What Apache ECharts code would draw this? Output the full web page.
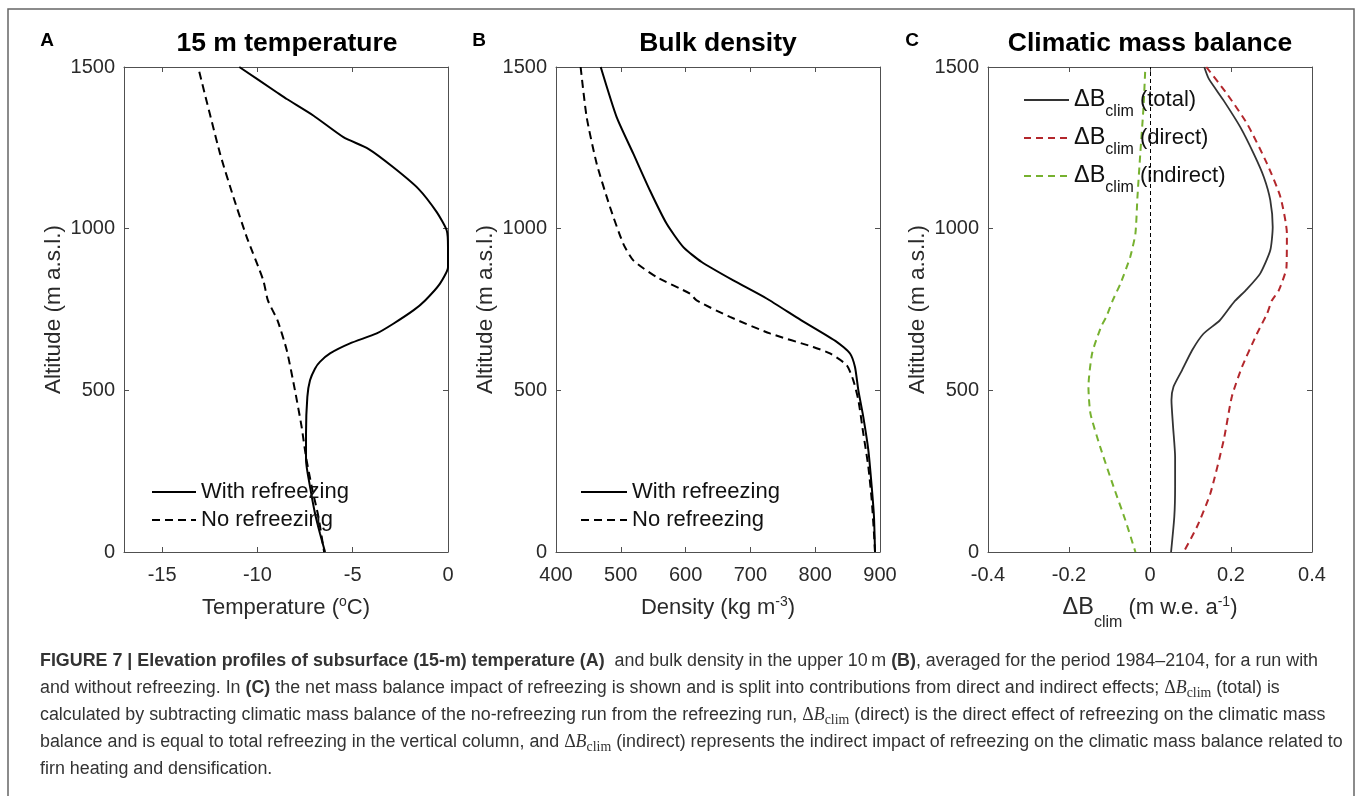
<!DOCTYPE html>
<html>
<head>
<meta charset="utf-8">
<script src="https://cdn.jsdelivr.net/npm/echarts@6/dist/echarts.min.js"></script>
<style>
html, body { margin: 0; padding: 0; background: #fff; }
#chart { width: 1357px; height: 796px; }
</style>
</head>
<body>
<div id="chart"></div>
<script>
// ---- Tick values ----
const yTicks = [0, 500, 1000, 1500];
const tempTicks = [-15, -10, -5, 0];
const densTicks = [400, 500, 600, 700, 800, 900];
const dbTicks = [-0.4, -0.2, 0, 0.2, 0.4];

// ---- (A) 15 m temperature (degC) against altitude (m a.s.l.) ----
const tempWithAlt = [1500, 1422, 1401, 1350, 1283, 1247, 1190, 1124, 1051, 995, 943, 881, 830, 778, 748, 706, 676, 645, 614, 588, 567, 531, 480, 367, 284, 202, 120, 58, 0];
const tempWith = [-10.95, -8.99, -8.46, -7.07, -5.49, -4.18, -2.87, -1.56, -0.59, -0.07, 0, 0, -0.42, -1.2, -1.8, -2.87, -3.74, -5.14, -6.19, -6.72, -6.98, -7.24, -7.38, -7.45, -7.45, -7.24, -6.98, -6.72, -6.45];
const tempNoAlt = [1485, 1232, 1098, 974, 840, 778, 717, 624, 500, 387, 294, 202, 109, 0];
const tempNo = [-13.05, -11.96, -11.26, -10.56, -9.69, -9.45, -8.95, -8.46, -8.03, -7.68, -7.45, -7.15, -6.8, -6.5];

// ---- (B) bulk density (kg m-3) against altitude ----
const densWithAlt = [1500, 1345, 1232, 1118, 1015, 943, 897, 840, 784, 717, 650, 614, 572, 500, 418, 315, 202, 109, 0];
const densWith = [469, 493.6, 519.3, 545, 570.8, 596.5, 624.8, 673.6, 725, 778, 833.2, 853.7, 861.4, 866.6, 874.2, 882, 887.2, 890.7, 892.3];
const densNoAlt = [1500, 1345, 1201, 1067, 953, 902, 850, 799, 778, 727, 676, 634, 614, 578, 531, 470, 367, 264, 161, 58, 0];
const densNo = [438, 447.3, 462.8, 483.3, 503.9, 519.3, 555.4, 606.8, 617, 668.5, 730.2, 797, 822.8, 848.6, 858.8, 866.6, 874.2, 882, 887.2, 890.7, 892.3];

// ---- (C) climatic mass balance change (m w.e. a-1) against altitude ----
const dbTotalAlt = [1500, 1464, 1396, 1314, 1232, 1160, 1088, 1005, 933, 861, 814, 778, 758, 716, 675, 624, 562, 511, 470, 387, 294, 202, 109, 0];
const dbTotal = [0.134, 0.145, 0.182, 0.223, 0.256, 0.281, 0.297, 0.303, 0.297, 0.272, 0.24, 0.211, 0.198, 0.172, 0.132, 0.104, 0.079, 0.058, 0.053, 0.057, 0.062, 0.062, 0.06, 0.052];
const dbDirectAlt = [1500, 1417, 1324, 1201, 1098, 985, 881, 809, 778, 737, 675, 572, 480, 346, 181, 78, 0];
const dbDirect = [0.139, 0.19, 0.24, 0.289, 0.322, 0.338, 0.337, 0.318, 0.301, 0.289, 0.264, 0.227, 0.202, 0.182, 0.149, 0.116, 0.083];
const dbIndirectAlt = [1485, 1376, 1232, 1098, 985, 912, 830, 778, 727, 696, 614, 511, 428, 325, 202, 99, 0];
const dbIndirect = [-0.012, -0.016, -0.024, -0.031, -0.036, -0.049, -0.073, -0.092, -0.108, -0.121, -0.143, -0.152, -0.147, -0.123, -0.09, -0.061, -0.036];

// ---- Styling ----
const SANS = '"Liberation Sans", Arial, Helvetica, sans-serif';
const SERIF = '"Liberation Serif", "Times New Roman", serif';
const AXIS_COLOR = '#505050';
const TICK_TEXT = '#2a2a2a';
const RED = '#b3272c';
const GREEN = '#76b12f';

const GRID_TOP = 67, GRID_H = 485, GRID_W = 324;

const nameRich = {
  n: { fontSize: 22, fontFamily: SANS, color: TICK_TEXT },
  d: { fontSize: 23.5, fontFamily: SANS, color: TICK_TEXT },
  sup: { fontSize: 14, fontFamily: SANS, color: TICK_TEXT, padding: [0, 0, 12, 0] },
  sub: { fontSize: 16, fontFamily: SANS, color: TICK_TEXT, padding: [30, 0, 0, 0] }
};

const panels = [
  { left: 124, xmin: -17, xmax: 0, ticks: tempTicks, name: '{n|Temperature (}{sup|o}{n|C)}', nameGap: 43 },
  { left: 556, xmin: 400, xmax: 900, ticks: densTicks, name: '{n|Density (kg m}{sup|-3}{n|)}', nameGap: 43 },
  { left: 988, xmin: -0.4, xmax: 0.4, ticks: dbTicks, name: '{d|\u0394B}{sub|clim}{n| (m w.e. a}{sup|-1}{n|)}', nameGap: 33 }
];

const plainNumber = v => String(v);
const lineStyleAxis = { color: AXIS_COLOR, width: 1 };
const grids = [], xAxes = [], yAxes = [];
panels.forEach((p, i) => {
  grids.push({ left: p.left, top: GRID_TOP, width: GRID_W, height: GRID_H, containLabel: false });
  xAxes.push({
    gridIndex: i, type: 'value', position: 'bottom', min: p.xmin, max: p.xmax,
    name: p.name, nameLocation: 'middle', nameGap: p.nameGap,
    nameTextStyle: { rich: nameRich, fontSize: 22, fontFamily: SANS, color: TICK_TEXT },
    axisLine: { show: true, onZero: false, lineStyle: lineStyleAxis },
    axisTick: { show: true, inside: true, length: 5, customValues: p.ticks, lineStyle: lineStyleAxis },
    axisLabel: { customValues: p.ticks, formatter: plainNumber, fontSize: 20, fontFamily: SANS, color: TICK_TEXT, margin: 13 },
    splitLine: { show: false }
  });
  xAxes.push({
    gridIndex: i, type: 'value', position: 'top', min: p.xmin, max: p.xmax,
    axisLine: { show: true, onZero: false, lineStyle: lineStyleAxis },
    axisTick: { show: true, inside: true, length: 5, customValues: p.ticks, lineStyle: lineStyleAxis },
    axisLabel: { show: false },
    splitLine: { show: false }
  });
  yAxes.push({
    gridIndex: i, type: 'value', position: 'left', min: 0, max: 1500,
    name: 'Altitude (m a.s.l.)', nameLocation: 'middle', nameGap: 59, nameRotate: 90,
    nameTextStyle: { fontSize: 22.5, fontFamily: SANS, color: TICK_TEXT },
    axisLine: { show: true, onZero: false, lineStyle: lineStyleAxis },
    axisTick: { show: true, inside: true, length: 5, customValues: yTicks, lineStyle: lineStyleAxis },
    axisLabel: { customValues: yTicks, formatter: plainNumber, fontSize: 20, fontFamily: SANS, color: TICK_TEXT, margin: 9 },
    splitLine: { show: false }
  });
  yAxes.push({
    gridIndex: i, type: 'value', position: 'right', min: 0, max: 1500,
    axisLine: { show: true, onZero: false, lineStyle: lineStyleAxis },
    axisTick: { show: true, inside: true, length: 5, customValues: yTicks, lineStyle: lineStyleAxis },
    axisLabel: { show: false },
    splitLine: { show: false }
  });
});

const zip = (xs, ys) => xs.map((v, k) => [v, ys[k]]);

function profile(name, panel, xs, alts, color, width, dash, extra) {
  return Object.assign({
    type: 'line', name: name,
    xAxisIndex: panel * 2, yAxisIndex: panel * 2,
    data: zip(xs, alts),
    symbol: 'none', smooth: 0.2,
    lineStyle: { color: color, width: width, type: dash || 'solid' },
    itemStyle: { color: color },
    z: 3
  }, extra || {});
}

const series = [
  profile('With refreezing', 0, tempWith, tempWithAlt, '#000', 2),
  profile('No refreezing', 0, tempNo, tempNoAlt, '#000', 2, [8, 5]),
  profile('With refreezing', 1, densWith, densWithAlt, '#000', 2),
  profile('No refreezing', 1, densNo, densNoAlt, '#000', 2, [8, 5]),
  profile('total', 2, dbTotal, dbTotalAlt, '#333', 1.8, 'solid', {
    markLine: {
      silent: true, symbol: 'none', label: { show: false },
      lineStyle: { color: '#000', width: 1, type: [4, 3] },
      data: [{ xAxis: 0 }]
    }
  }),
  profile('direct', 2, dbDirect, dbDirectAlt, RED, 2, [7, 5]),
  profile('indirect', 2, dbIndirect, dbIndirectAlt, GREEN, 2, [7, 5])
];

// Legend keys show the line only (the marker is made fully transparent)
const legendBase = {
  orient: 'vertical', padding: 0, itemHeight: 14, selectedMode: false,
  itemStyle: { opacity: 0 }
};
const legendText = { fontSize: 22, fontFamily: SANS, color: '#111' };
const legends = [
  Object.assign({}, legendBase, { left: 151, top: 481, itemWidth: 44, itemGap: 6,
    textStyle: legendText, data: ['With refreezing', 'No refreezing'] }),
  Object.assign({}, legendBase, { left: 580, top: 481, itemWidth: 46, itemGap: 6,
    textStyle: legendText, data: ['With refreezing', 'No refreezing'] }),
  Object.assign({}, legendBase, { left: 1023, top: 88, itemWidth: 45, itemGap: 6,
    data: ['total', 'direct', 'indirect'],
    formatter: nm => '{n|\u0394B}{sub|clim}{p| (' + nm + ')}',
    textStyle: {
      fontSize: 22, fontFamily: SANS, color: '#111',
      rich: {
        n: { fontSize: 23.5, fontFamily: SANS, color: '#111' },
        p: { fontSize: 22, fontFamily: SANS, color: '#111' },
        sub: { fontSize: 16, fontFamily: SANS, color: '#111', padding: [24, 0, 0, 0] }
      }
    } })
];

// ---- Panel letters and titles ----
const headers = [
  { letter: 'A', lx: 47, title: '15 m temperature', tx: 287 },
  { letter: 'B', lx: 479, title: 'Bulk density', tx: 718 },
  { letter: 'C', lx: 912, title: 'Climatic mass balance', tx: 1150 }
];
const graphics = [{
  type: 'rect', silent: true, z: 0,
  shape: { x: 8, y: 9, width: 1346, height: 800 },
  style: { fill: 'none', stroke: '#666', lineWidth: 1.5 }
}];
headers.forEach(h => {
  graphics.push({ type: 'text', x: h.lx, y: 41, silent: true,
    style: { text: h.letter, font: 'bold 19px ' + SANS, fill: '#000', textAlign: 'center', verticalAlign: 'middle' } });
  graphics.push({ type: 'text', x: h.tx, y: 44, silent: true,
    style: { text: h.title, font: 'bold 26.5px ' + SANS, fill: '#000', textAlign: 'center', verticalAlign: 'middle' } });
});

// ---- Figure caption ----
const CAP = 18;
const capFonts = {
  r: CAP + 'px ' + SANS,
  b: 'bold ' + CAP + 'px ' + SANS,
  d: CAP + 'px ' + SERIF,
  i: 'italic ' + CAP + 'px ' + SERIF,
  s: '14px ' + SERIF
};
const dB = [['d', '\u0394'], ['i', 'B'], ['s', 'clim']];
const captionLines = [
  [['b', 'FIGURE 7 | Elevation profiles of subsurface (15-m) temperature (A)'], ['r', '  and bulk density in the upper 10\u2009m '], ['b', '(B)'], ['r', ', averaged for the period 1984\u20132104, for a run with']],
  [['r', 'and without refreezing. In '], ['b', '(C)'], ['r', ' the net mass balance impact of refreezing is shown and is split into contributions from direct and indirect effects; ']].concat(dB, [['r', ' (total) is']]),
  [['r', 'calculated by subtracting climatic mass balance of the no-refreezing run from the refreezing run, ']].concat(dB, [['r', ' (direct) is the direct effect of refreezing on the climatic mass']]),
  [['r', 'balance and is equal to total refreezing in the vertical column, and ']].concat(dB, [['r', ' (indirect) represents the indirect impact of refreezing on the climatic mass balance related to']]),
  [['r', 'firn heating and densification.']]
];
const ctx = document.createElement('canvas').getContext('2d');
function measure(kind, text) { ctx.font = capFonts[kind]; return ctx.measureText(text).width; }
const firstWidth = captionLines[0].reduce((s, f) => s + measure(f[0], f[1]), 0);
const capScale = 1278 / firstWidth;
captionLines.forEach((line, li) => {
  let x = 0;
  const children = [];
  line.forEach(f => {
    children.push({ type: 'text', x: x, y: f[0] === 's' ? 5 : 0, silent: true,
      style: { text: f[1], font: capFonts[f[0]], fill: '#333', textAlign: 'left', verticalAlign: 'middle' } });
    x += measure(f[0], f[1]);
  });
  graphics.push({ type: 'group', x: 40, y: 661 + li * 27, scaleX: capScale, children: children });
});

const chart = echarts.init(document.getElementById('chart'), null, { renderer: 'canvas' });
chart.setOption({
  backgroundColor: '#fff',
  animation: false,
  grid: grids,
  xAxis: xAxes,
  yAxis: yAxes,
  legend: legends,
  series: series,
  graphic: { elements: graphics }
});
</script>
</body>
</html>
